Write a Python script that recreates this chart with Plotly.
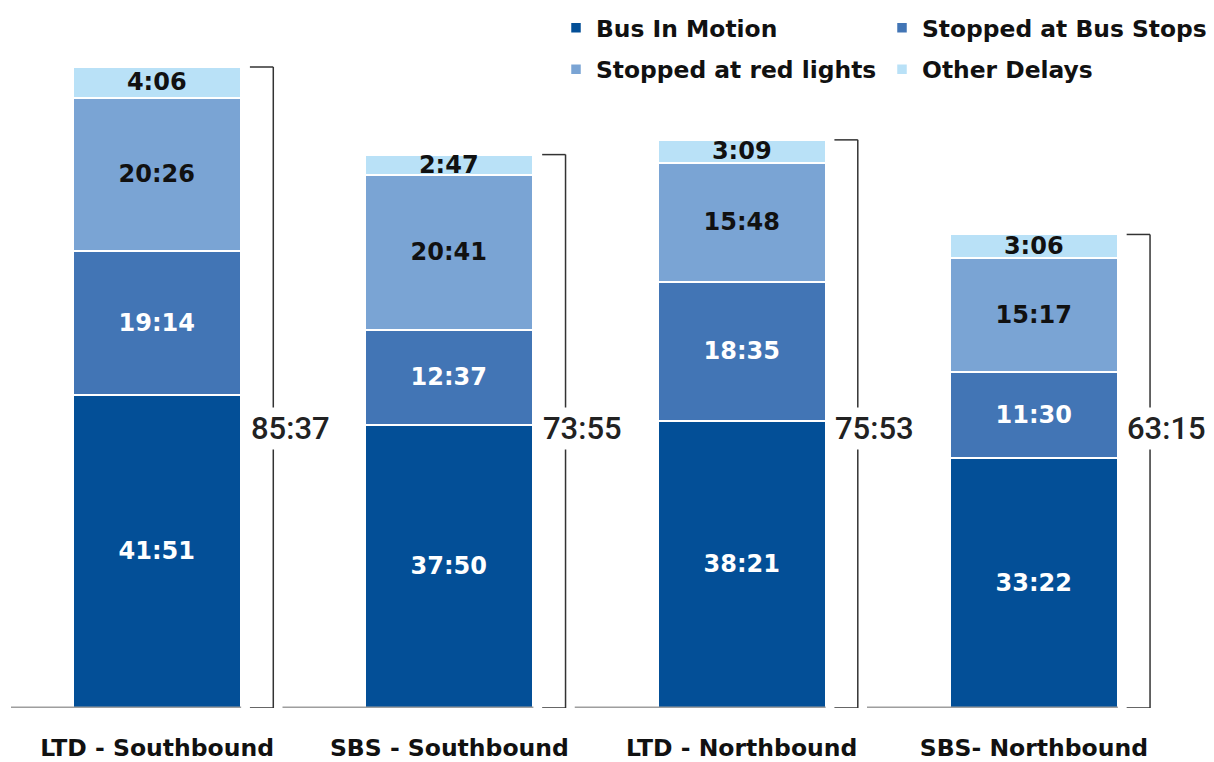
import plotly.graph_objects as go

categories = ["LTD - Southbound", "SBS - Southbound", "LTD - Northbound", "SBS- Northbound"]
series_names = ["Bus In Motion", "Stopped at Bus Stops", "Stopped at red lights", "Other Delays"]
bus_in_motion = ["41:51", "37:50", "38:21", "33:22"]
stopped_bus_stops = ["19:14", "12:37", "18:35", "11:30"]
stopped_red_lights = ["20:26", "20:41", "15:48", "15:17"]
other_delays = ["4:06", "2:47", "3:09", "3:06"]
totals = ["85:37", "73:55", "75:53", "63:15"]

colors = ["#034f97", "#4275b5", "#7aa4d4", "#b9e1f7"]
text_colors = ["white", "white", "#111111", "#111111"]
legend_ids = ["legend", "legend2", "legend", "legend2"]


def to_min(s):
    m, sec = s.split(":")
    return int(m) + int(sec) / 60.0


FONT = "DejaVu Sans"
TOTAL_FONT = "Roboto"
BAR_W = 0.575
HALF = BAR_W / 2

fig = go.Figure()
all_series = [bus_in_motion, stopped_bus_stops, stopped_red_lights, other_delays]
for name, vals, col, tcol, lg in zip(series_names, all_series, colors, text_colors, legend_ids):
    fig.add_trace(go.Bar(
        x=list(range(len(categories))),
        y=[to_min(v) for v in vals],
        name=name,
        legendgroup=name,
        text=vals,
        textposition="inside",
        insidetextanchor="middle",
        textangle=0,
        textfont=dict(family=FONT, size=24, color=tcol, weight="bold"),
        marker=dict(color=col, line=dict(color="white", width=2.5)),
        width=BAR_W,
        legend=lg,
        hoverinfo="skip",
    ))

shapes = []
annotations = []
for i, t in enumerate(totals):
    tv = to_min(t)
    right = i + HALF
    shapes.append(dict(type="line", xref="x", yref="y", x0=i - 0.571, x1=right, y0=0, y1=0,
                       line=dict(color="#9e9e9e", width=3), layer="above"))
    vx = right + 0.11
    tx0 = right + 0.03
    shapes.append(dict(type="line", xref="x", yref="y", x0=vx, x1=vx, y0=0, y1=tv,
                       line=dict(color="#333333", width=1.5)))
    shapes.append(dict(type="line", xref="x", yref="y", x0=tx0, x1=vx, y0=tv, y1=tv,
                       line=dict(color="#333333", width=1.5)))
    shapes.append(dict(type="line", xref="x", yref="y", x0=tx0, x1=vx, y0=0, y1=0,
                       line=dict(color="#333333", width=1.5)))
    annotations.append(dict(x=right + 0.168, y=37.3, xref="x", yref="y", text=t, showarrow=False,
                            font=dict(family=TOTAL_FONT, size=31, color="#222222", weight=500),
                            bgcolor="white", borderpad=2))

legend_common = dict(xref="container", yref="container", y=1 - 6 / 762,
                     xanchor="left", yanchor="top", orientation="v", traceorder="grouped",
                     tracegroupgap=8,
                     font=dict(family=FONT, size=23.4, color="#111111", weight="bold"),
                     bgcolor="rgba(0,0,0,0)")

fig.update_layout(
    width=1214, height=762,
    margin=dict(l=11, r=34, t=10, b=54, autoexpand=False),
    barmode="stack",
    bargap=0,
    plot_bgcolor="white",
    paper_bgcolor="white",
    uniformtext=dict(minsize=24, mode="show"),
    xaxis=dict(range=[-0.5, 3.5], tickmode="array", tickvals=list(range(4)), ticktext=categories,
               showgrid=False, zeroline=False, showline=False, ticks="",
               tickfont=dict(family=FONT, size=23.5, color="#111111", weight="bold"),
               ticklabelstandoff=23),
    yaxis=dict(range=[0, 93.23], visible=False, showgrid=False, zeroline=False),
    legend=dict(x=556 / 1214, **legend_common),
    legend2=dict(x=882 / 1214, **legend_common),
    shapes=shapes,
    annotations=annotations,
)

fig.write_html("out.html", config={"displayModeBar": False},
               post_script="document.body.style.margin='0';document.body.style.overflow='hidden';")
